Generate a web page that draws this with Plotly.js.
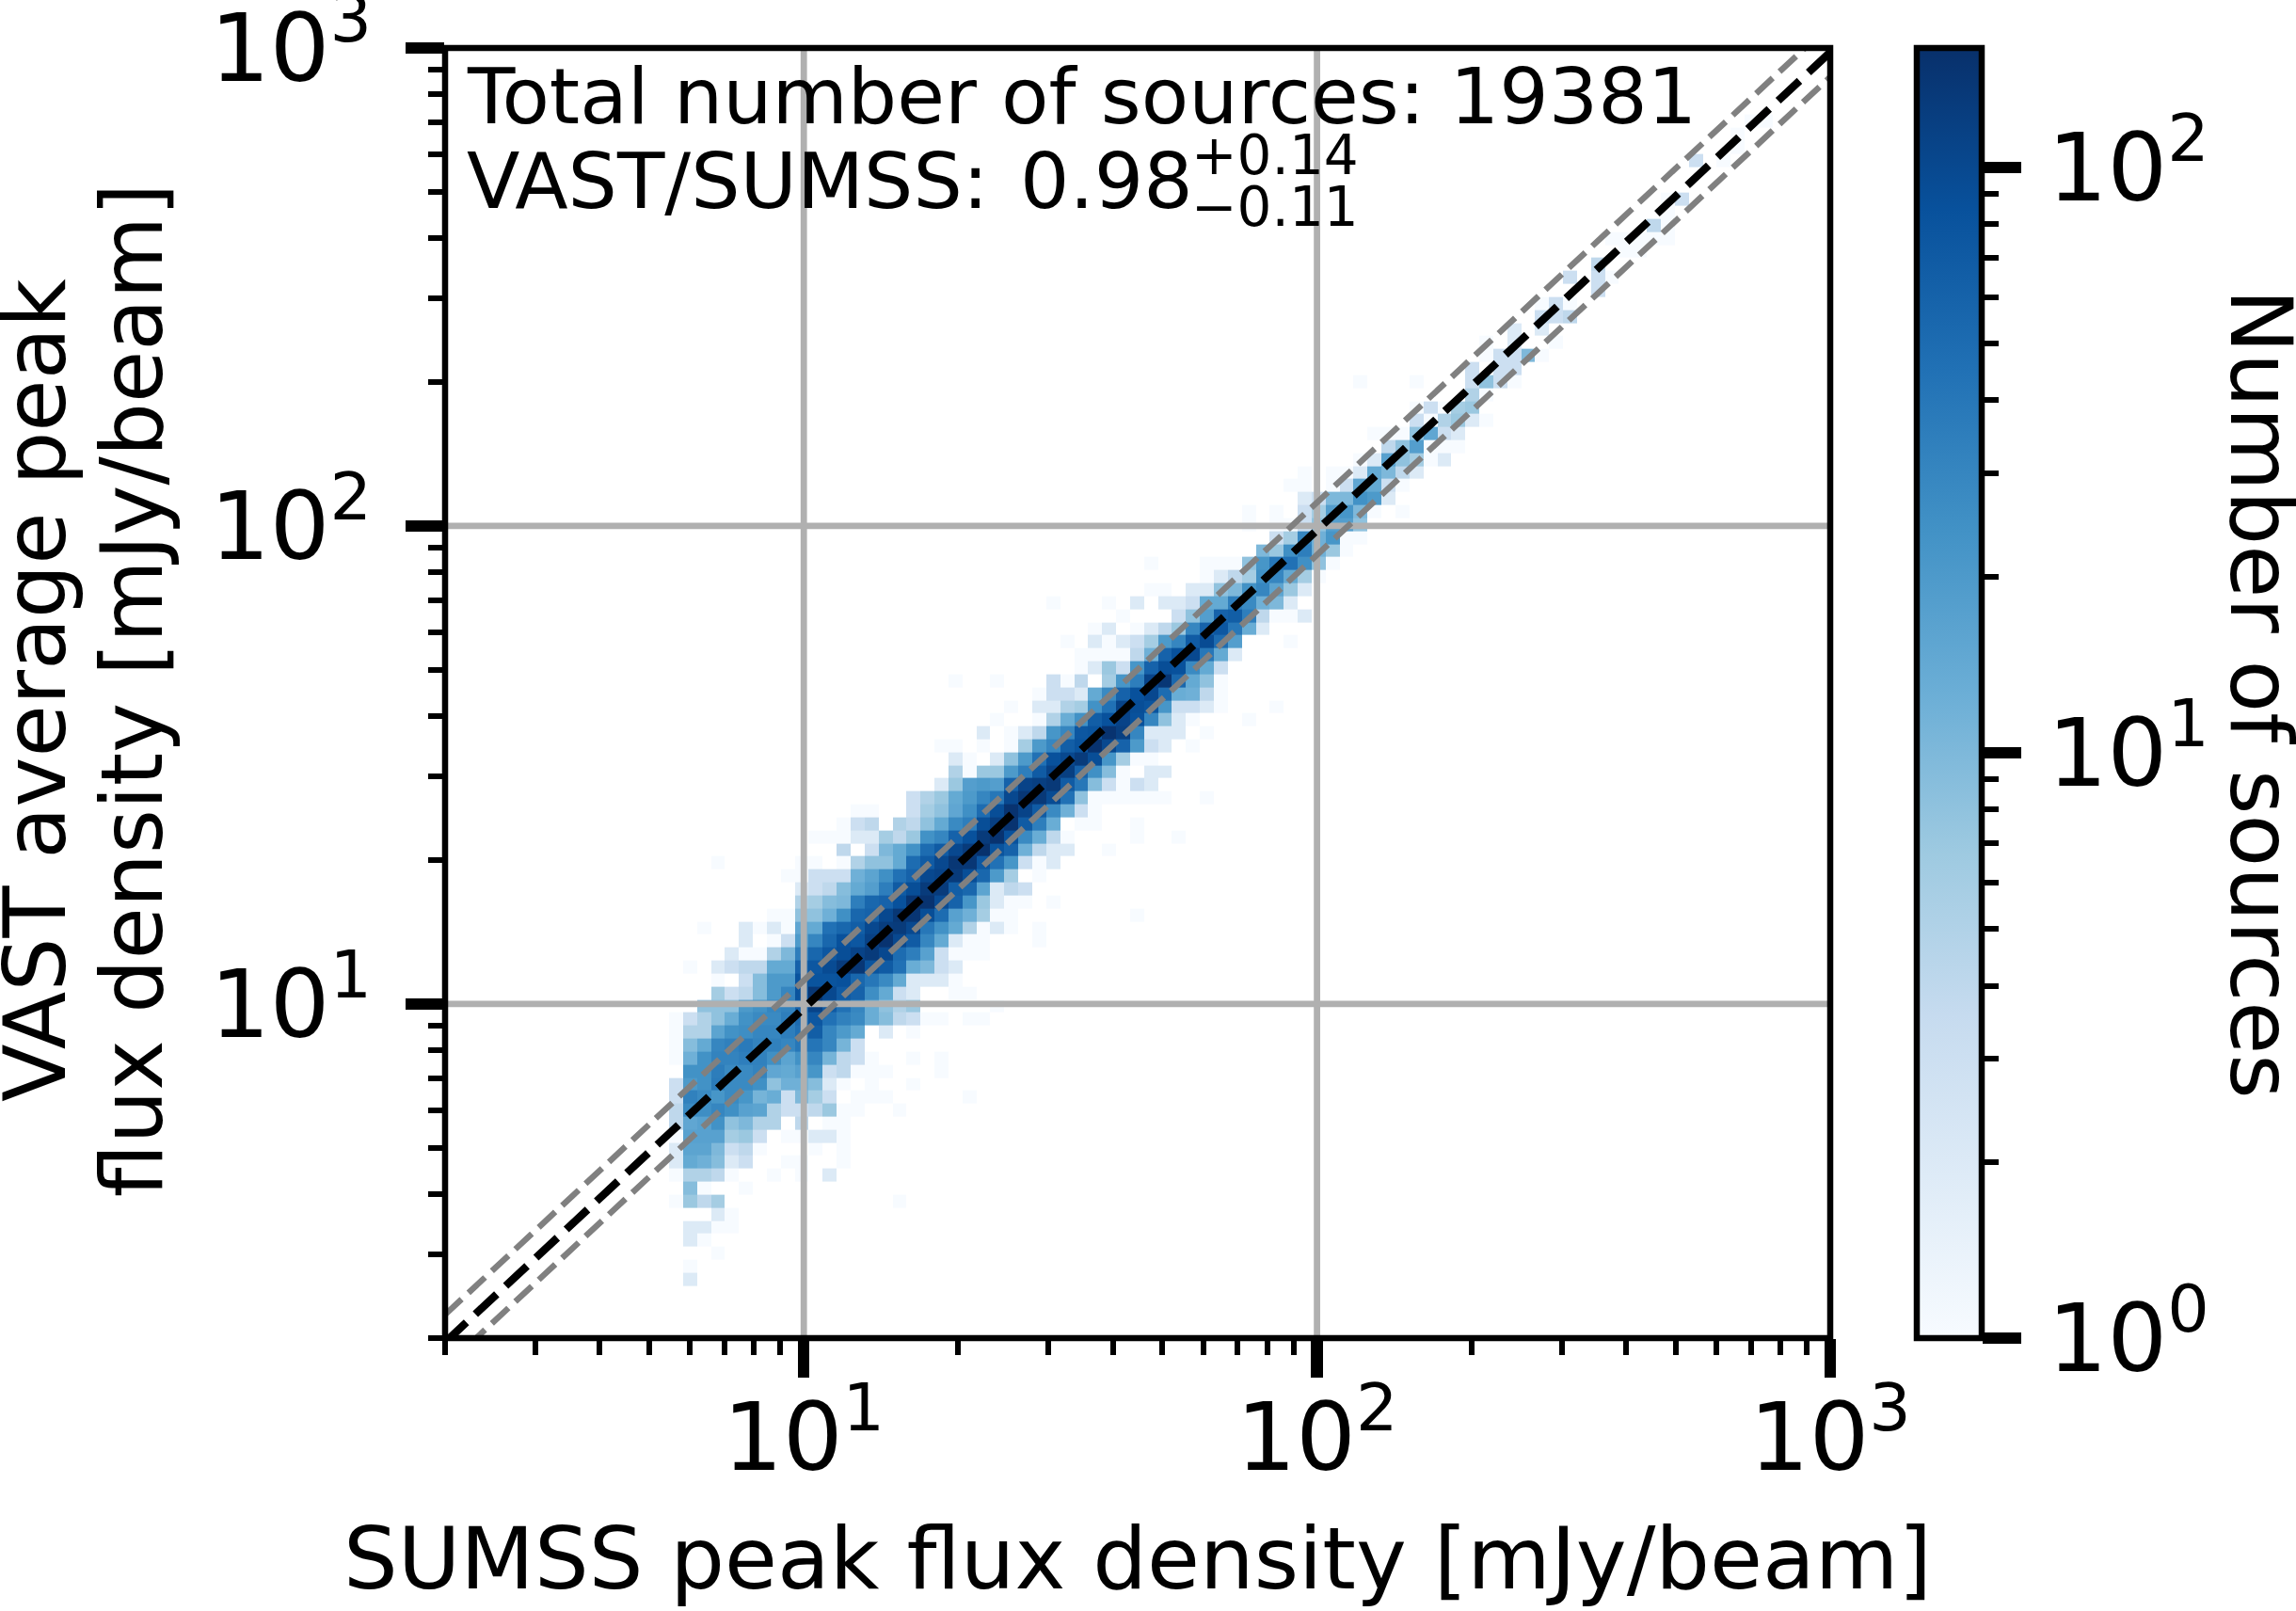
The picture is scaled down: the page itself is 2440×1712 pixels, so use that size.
<!DOCTYPE html>
<html><head><meta charset="utf-8">
<script src="https://cdn.plot.ly/plotly-3.0.1.min.js"></script>
<style>html,body{margin:0;padding:0;background:#fff}</style></head>
<body><div id="chart" style="width:2440px;height:1712px"></div>
<script>
// ---- data ----
const firstRow = -21;            // index of rowStarts[0] / rowCounts[0]
const rowStarts = [-9,-9,-7,-9,-9,-7,-10,-9,-10,-10,-10,-10,-10,-10,-10,-10,-9,-10,-10,-10,-10,
  -8,-7,-7,-9,-6,-5,-8,-3,-1,-1,-2,-7,2,0,2,3,
  7,9,10,10,9,12,13,14,16,10,19,19,18,20,22,17,24,28,24,32,33,31,31,35,34,35,39,41,40,43,43,47,39,47,48,48,50,52,52,56,54,56,58,57,60,61,61,0,0,63,66,66,67];
const rowCounts = [
 [2],[1],[1],[2,1],[2,2,1,1],[2,1],
 [1,7,4,6,0,0,0,0,0,0,0,0,0,0,0,0,1],
 [9,1,0,0,1],
 [1,5,5,4,1,0,0,1,0,1,0,2],
 [2,14,12,9,2,3,0,0,1,1,0,0,1],
 [2,16,16,10,3,4,1,0,0,0,1,0,1],
 [1,17,17,17,6,7,3,0,1,1,2,2,1],
 [4,15,17,24,8,10,5,5,0,4,0,1,1],
 [4,28,26,30,25,17,16,5,3,3,4,7,1,1,0,0,1],
 [3,33,28,22,28,22,11,13,3,10,6,3,0,1,1,1,0,0,0,0,0,1],
 [3,20,24,37,28,28,25,8,12,12,9,2,1,0,1,0,0,1],
 [24,24,36,28,28,32,15,14,17,22,3,4,1,1,1,0,0,0,1],
 [1,12,24,32,32,35,33,25,16,24,30,11,4,3,1,0,0,1,0,1],
 [1,9,14,30,34,38,32,33,30,40,42,30,11,3],
 [1,5,5,16,24,26,30,30,35,45,65,30,20,14,0,2,0,1],
 [1,3,5,8,13,24,28,28,35,50,75,45,33,28,13,9,4,3,1,1,0,1,1],
 [8,8,8,20,24,30,32,60,110,70,45,30,13,8,5,7,0,0,0,0,0,1],
 [6,3,4,9,20,30,80,140,100,70,60,26,14,3,2,0,0,1,1],
 [1,0,3,9,20,20,80,80,80,85,55,40,28,14,2,2,2,1],
 [1,0,2,3,4,4,14,14,60,75,95,130,140,80,70,45,13,10,3,2],
 [2,1,1,5,10,35,55,75,90,110,130,100,50,35,17,3,1,1,1],
 [2,0,1,3,20,30,55,85,75,115,150,100,70,30,14,2,1,1,0,0,0,1],
 [1,0,0,2,1,2,1,15,14,45,55,65,100,125,130,100,40,24,14,5,1,2,1,0,1],
 [1,1,8,8,12,25,55,60,100,140,145,90,50,17,12,6,1,1,0,0,0,0,0,0,0,0,1],
 [5,6,9,10,35,55,60,85,145,150,95,60,22,7,2,1,1,0,1],
 [2,3,4,9,14,18,35,70,90,130,130,65,55,16,2,4,3],
 [1,1,3,3,3,12,16,25,45,60,100,110,130,90,55,20,6,0,1],
 [1,0,0,0,0,0,1,1,0,1,5,8,8,14,50,70,100,140,140,75,45,22,3,1,2],
 [4,0,3,10,14,24,50,70,100,130,155,80,60,12,4,2,2,0,0,1],
 [1,1,1,2,2,6,4,7,24,30,60,85,130,150,85,28,13,4,1,0,0,0,0,1,0,0,1],
 [1,3,4,0,5,4,8,14,28,35,90,120,150,70,35,13,0,1,1,0,0,1],
 [1,1,0,0,3,6,8,15,25,50,90,150,110,70,28,12,3,1],
 [3,5,7,14,20,30,40,100,140,135,95,45,8,1,1,1,1,1,1,0,0,1],
 [2,7,18,20,18,60,110,120,135,70,40,9,3,1,3,2],
 [5,1,7,7,20,35,70,110,120,60,25,9,1,0,2,2],
 [2,1,0,2,8,20,45,85,100,130,90,22,6,1,1],
 [1,1,0,1,0,1,6,20,30,65,80,150,100,60,20,3,2,0,1],
 [2,0,1,2,4,22,30,75,80,150,120,30,2,2,2,0,1],
 [1,0,0,1,5,13,24,65,85,110,85,30,8,2,1,0,0,0,1],
 [1,0,2,2,5,6,24,45,110,90,80,22,3,3,2,1,0,0,0,1],
 [1,3,3,2,14,28,60,85,100,50,13,12,4,1],
 [1,0,0,1,0,0,0,3,1,4,0,6,22,35,110,140,55,14,8,1],
 [1,2,7,3,22,60,90,85,28,14,3],
 [1,1,1,1,4,12,60,85,100,40,14,2],
 [1,0,2,1,2,3,6,20,30,70,95,50,18,0,0,0,1],
 [1,2,0,1,2,4,7,30,60,75,40,13,2],
 [1,0,0,0,3,8,18,60,65,35,4,1,1,2],
 [1,0,0,0,1,0,2,0,2,2,3,14,14,35,28,12,10,2],
 [1,1,0,2,2,8,10,24,30,16,7,2],
 [1,2,4,6,25,30,14,6,1],
 [1,0,0,0,1,1,1,8,22,40,45,25,8,1],
 [10,7,25,35,12,7,1],
 [3,6,30,12,22,1,1],
 [1,0,1,1,3,8,18,18,8],
 [1,0,1,0,3,6,18,22,10,1,0,1],
 [2,3,10,10,24,20,2],
 [1,1,0,1,3,15,14,3,1],
 [1,0,1,1,2,14,10,4,2],
 [1,2,17,8,6,1,2],
 [4,8,18,1,1,1],
 [1,1,1,8,15,3,2],
 [3,1,5,7,2,1],
 [1,3,1,6,7],
 [5,1],
 [1,0,0,0,1,0,0,0,3,8,3,1],
 [3,0,3,3],
 [1,3,3,10,1],
 [1,0,2,0,0,1],
 [2,0,2],
 [3,3,4],
 [1,3,1],
 [3],
 [3,0,3,1],
 [4],
 [1,1],
 [1,1,1,1,1],
 [4,1],
 [1],
 [1,3],
 [],[],
 [3,0,1],
 [1],[1],[1,1]
];
const binOriginLog = 1.0095, binWidthLog = 0.02722, binMin = -23, binMax = 73;
const countMax = 160;
const gridValues = [10, 100];
const axisMin = 2, axisMax = 1000;
const refX = [2, 1000];
const refCentre = [1.96, 980];
const refUpper = [2.24, 1120];
const refLower = [1.74, 870];
const majorTicks = [10, 100, 1000];
const majorLabels = ['10<sup>1</sup>', '10<sup>2</sup>', '10<sup>3</sup>'];
const minorTicks = [2,3,4,5,6,7,8,9,20,30,40,50,60,70,80,90,200,300,400,500,600,700,800,900];
const cbMajor = [1, 10, 100];
const cbLabels = ['10<sup>0</sup>', '10<sup>1</sup>', '10<sup>2</sup>'];
const cbMinor = [2,3,4,5,6,7,8,9,20,30,40,50,60,70,80,90];
const blues = [[0,'#f7fbff'],[0.125,'#deebf7'],[0.25,'#c6dbef'],[0.375,'#9ecae1'],[0.5,'#6baed6'],[0.625,'#4292c6'],[0.75,'#2171b5'],[0.875,'#08519c'],[1,'#08306b']];

// ---- build ----
const W = 2440, H = 1712;
const L = 473, R = 1945, T = 51, B = 1422, CL = 2037, CR = 2106;
const px = v => v / W, py = v => 1 - v / H;
const xEdges = [], yEdges = [];
for (let k = binMin; k <= binMax; k++) {
  xEdges.push(Math.pow(10, binOriginLog + k * binWidthLog));
  yEdges.push(Math.pow(10, binOriginLog + (k - 1) * binWidthLog));
}
const nBins = binMax - binMin;
const z = [];
for (let r = 0; r < nBins; r++) z.push(new Array(nBins).fill(null));
rowCounts.forEach((row, i) => {
  const ry = firstRow + i - binMin;
  row.forEach((c, j) => {
    const cx = rowStarts[i] + j - binMin;
    if (c > 0) z[ry][cx] = Math.log10(c);
  });
});
const font = 'DejaVu Sans';
const traces = [
  {type:'heatmap', x:xEdges, y:yEdges, z:z, zmin:0, zmax:Math.log10(countMax), colorscale:blues, hoverinfo:'skip',
   colorbar:{x:px(CL), xanchor:'left', xref:'paper', y:py(B), yanchor:'bottom', yref:'paper', len:B-T, lenmode:'pixels',
     thickness:CR-CL, thicknessmode:'pixels', xpad:0, ypad:0, outlinewidth:6.5, outlinecolor:'#000', ticks:'', showticklabels:false}}
];
gridValues.forEach(v => {
  traces.push({type:'scatter', mode:'lines', x:[v,v], y:[axisMin,axisMax], line:{color:'#b0b0b0',width:6.8}, hoverinfo:'skip', showlegend:false});
  traces.push({type:'scatter', mode:'lines', x:[axisMin,axisMax], y:[v,v], line:{color:'#b0b0b0',width:6.8}, hoverinfo:'skip', showlegend:false});
});
traces.push({type:'scatter', mode:'lines', x:refX, y:refUpper, line:{color:'#808080',width:6.4,dash:'24px,10px'}, hoverinfo:'skip', showlegend:false});
traces.push({type:'scatter', mode:'lines', x:refX, y:refLower, line:{color:'#808080',width:6.4,dash:'24px,10px'}, hoverinfo:'skip', showlegend:false});
traces.push({type:'scatter', mode:'lines', x:refX, y:refCentre, line:{color:'#000',width:8.3,dash:'31px,13px'}, hoverinfo:'skip', showlegend:false});

const logRange = [Math.log10(axisMin), Math.log10(axisMax)];
const tickStyle = {tickmode:'array', ticks:'outside', ticklen:41, tickwidth:12.5, tickcolor:'#000', showgrid:false, showline:false, zeroline:false,
  ticklabeloverflow:'allow',
  minor:{tickmode:'array', tickvals:minorTicks, ticks:'outside', ticklen:17, tickwidth:6, tickcolor:'#000', showgrid:false},
  tickfont:{family:font,size:100,color:'#000'}};
const ann = (text, x, y, size, extra) => Object.assign({text, xref:'paper', yref:'paper', x:px(x), y:py(y), xanchor:'left', yanchor:'middle', showarrow:false, borderpad:0,
  font:{family:font,size,color:'#000'}}, extra||{});
const layout = {
  width:W, height:H, margin:{l:0,r:0,t:0,b:0,autoexpand:false}, paper_bgcolor:'#fff', plot_bgcolor:'#fff', showlegend:false,
  xaxis:Object.assign({type:'log', range:logRange, domain:[px(L),px(R)], anchor:'y', tickvals:majorTicks, ticktext:majorLabels, ticklabelstandoff:-22,
    title:{text:'SUMSS peak flux density [mJy/beam]', font:{family:font,size:91,color:'#000'}, standoff:39}}, tickStyle),
  yaxis:Object.assign({type:'log', range:logRange, domain:[py(B),py(T)], anchor:'x', tickvals:majorTicks, ticktext:majorLabels, ticklabelstandoff:16,
    title:{text:'VAST average peak<br>flux density [mJy/beam]', font:{family:font,size:90,color:'#000'}, standoff:42}}, tickStyle),
  xaxis2:{domain:[px(CL),px(CR)], anchor:'y2', visible:false, range:[0,1]},
  yaxis2:Object.assign({}, tickStyle, {type:'log', range:[0,Math.log10(countMax)], domain:[py(B),py(T)], anchor:'x2', side:'right',
    tickvals:cbMajor, ticktext:cbLabels, ticklabelstandoff:8,
    minor:Object.assign({}, tickStyle.minor, {tickvals:cbMinor})}),
  shapes:[
    {type:'rect', xref:'paper', yref:'paper', x0:px(L), x1:px(R), y0:py(B), y1:py(T), line:{color:'#000',width:6.5}, fillcolor:'rgba(0,0,0,0)', layer:'above'}
  ],
  annotations:[
    ann('Total number of sources: 19381', 495, 102, 82.5),
    ann('VAST/SUMSS:', 495, 192, 82.5),
    ann('0.98', 1083, 192, 82.5),
    ann('+0.14', 1265, 165, 58),
    ann('\u22120.11', 1265, 220, 58),
    ann('Number of sources', 2403, 737, 91, {textangle:90, xanchor:'center'})
  ]
};
traces.push({type:'scatter', mode:'markers', x:[], y:[], xaxis:'x2', yaxis:'y2', hoverinfo:'skip', showlegend:false});
Plotly.newPlot('chart', traces, layout, {displayModeBar:false, staticPlot:true}).then(() => {
  const title = document.querySelector('.ytitle');
  if (title) {
    const second = title.querySelectorAll('tspan.line')[1];
    if (second) second.setAttribute('dy', '1.144em');
    title.setAttribute('transform', 'translate(-15,-3) ' + (title.getAttribute('transform') || ''));
  }
});
</script></body></html>
